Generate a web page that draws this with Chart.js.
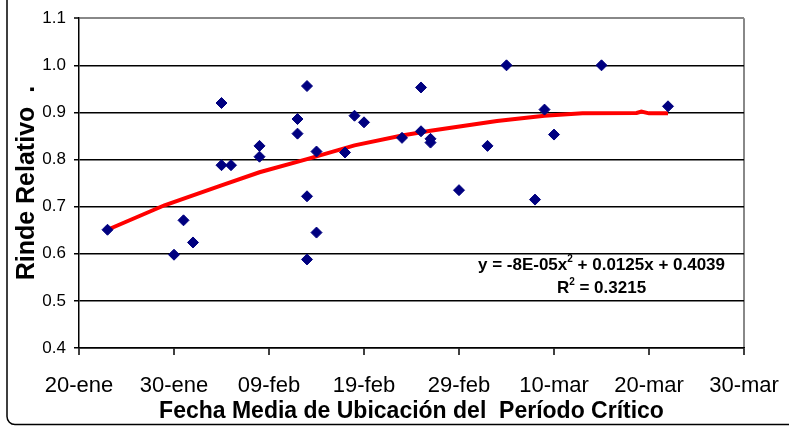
<!DOCTYPE html>
<html>
<head>
<meta charset="utf-8">
<script src="https://cdn.jsdelivr.net/npm/chart.js@4/dist/chart.umd.min.js"></script>
<style>
	body { margin: 0; background: #fff; overflow: hidden; }
	canvas { display: block; }
</style>
</head>
<body>
<canvas id="rindeChart" width="789" height="426"></canvas>
<script>
// dias contados desde el 20-ene (año bisiesto)
const xLabels = ["20-ene", "30-ene", "09-feb", "19-feb", "29-feb", "10-mar", "20-mar", "30-mar"];

const fechaDias = [3, 10, 11, 12, 15, 15, 16, 19, 19, 23, 23, 24, 24, 24, 25, 25,
	28, 29, 30, 34, 36, 36, 37, 37, 40, 43, 45, 48, 49, 50, 55, 62];
const rindeRel = [0.651, 0.598, 0.671, 0.624, 0.920, 0.788, 0.788, 0.829, 0.806, 0.886, 0.855, 0.956, 0.722, 0.588, 0.817, 0.645,
	0.815, 0.893, 0.879, 0.846, 0.953, 0.860, 0.844, 0.836, 0.735, 0.829, 1.000, 0.715, 0.906, 0.853, 1.000, 0.913];

// linea de tendencia polinomica
const tendDias = [3, 9, 15, 19, 24, 29, 34, 37, 44, 49, 53, 58.7, 59.2, 60, 62];
const tendRinde = [0.651, 0.703, 0.745, 0.773, 0.801, 0.830, 0.851, 0.861, 0.882, 0.893, 0.898, 0.899, 0.902, 0.898, 0.898];

const ecuacion = ["y = -8E-05x", "2", " + 0.0125x + 0.4039"];
const r2Texto = ["R", "2", " = 0.3215"];

const FONT = "'Liberation Sans', Arial, sans-serif";

function drawSup(ctx, parts, cx, cy, size) {
	const big = "bold " + size + "px " + FONT;
	const small = "bold " + Math.round(size * 0.6) + "px " + FONT;
	ctx.font = big;
	const w0 = ctx.measureText(parts[0]).width;
	const w2 = ctx.measureText(parts[2]).width;
	ctx.font = small;
	const w1 = ctx.measureText(parts[1]).width;
	let x = cx - (w0 + w1 + w2) / 2;
	ctx.textAlign = "left";
	ctx.textBaseline = "middle";
	ctx.font = big;
	ctx.fillText(parts[0], x, cy);
	x += w0;
	ctx.font = small;
	ctx.fillText(parts[1], x, cy - size * 0.35);
	x += w1;
	ctx.font = big;
	ctx.fillText(parts[2], x, cy);
}

const extras = {
	id: "extras",
	afterDraw(chart) {
		const { ctx, scales: { x, y } } = chart;
		ctx.save();
		ctx.fillStyle = "#000";
		const cx = x.getPixelForValue(55);
		drawSup(ctx, ecuacion, cx, y.getPixelForValue(0.576), 17);
		drawSup(ctx, r2Texto, cx, y.getPixelForValue(0.527), 17);

		// marco exterior del grafico
		ctx.strokeStyle = "#000";
		ctx.lineWidth = 1.5;
		ctx.beginPath();
		ctx.moveTo(7, -5);
		ctx.lineTo(7, 416);
		ctx.arcTo(7, 424.5, 16, 424.5, 8);
		ctx.lineTo(800, 424.5);
		ctx.stroke();
		ctx.restore();
	}
};

const puntos = fechaDias.map((d, i) => ({ x: d, y: rindeRel[i] }));
const tendencia = tendDias.map((d, i) => ({ x: d, y: tendRinde[i] }));

new Chart(document.getElementById("rindeChart"), {
	type: "scatter",
	data: {
		datasets: [{
			label: "Rinde",
			data: puntos,
			pointStyle: "rectRot",
			pointRadius: 5.5,
			backgroundColor: "#000080",
			borderColor: "#000080",
			borderWidth: 1,
			order: 0
		}, {
			label: "Tendencia",
			data: tendencia,
			showLine: true,
			pointRadius: 0,
			borderColor: "#ff0000",
			borderWidth: 4,
			tension: 0,
			order: 1
		}]
	},
	options: {
		responsive: false,
		animation: false,
		layout: { padding: { top: 17, right: 45, left: 0, bottom: 0 } },
		plugins: { legend: { display: false }, tooltip: { enabled: false } },
		scales: {
			x: {
				type: "linear",
				min: 0,
				max: 70,
				afterFit: s => {
					s.height = 78;
					s.paddingLeft = 0;
					s.paddingRight = 0;
				},
				ticks: {
					stepSize: 10,
					padding: 18,
					color: "#000",
					font: { family: FONT, size: 22 },
					maxRotation: 0,
					callback: v => xLabels[Math.round(v / 10)]
				},
				grid: {
					color: c => (c.tick && c.tick.value === 70) ? "#888" : "rgba(0,0,0,0)",
					lineWidth: 2,
					tickColor: "#000",
					tickLength: 7,
					tickWidth: 1.5
				},
				border: { display: true, color: "#000", width: 1.5 },
				title: {
					display: true,
					text: "Fecha Media de Ubicación del  Período Crítico",
					color: "#000",
					font: { family: FONT, size: 23, weight: "bold" },
					padding: { top: 0, bottom: 1 }
				}
			},
			y: {
				min: 0.4,
				max: 1.1,
				afterFit: s => { s.width = 79; },
				ticks: {
					stepSize: 0.1,
					padding: 8,
					color: "#000",
					font: { family: FONT, size: 17 },
					callback: v => v.toFixed(1)
				},
				grid: {
					color: c => (c.tick && Math.abs(c.tick.value - 1.1) < 1e-6) ? "#888" : "#000",
					lineWidth: c => (c.tick && Math.abs(c.tick.value - 1.1) < 1e-6) ? 2 : 1.5,
					tickColor: "#000",
					tickLength: 5,
					tickWidth: 1.5
				},
				border: { display: true, color: "#000", width: 1.5 },
				title: {
					display: true,
					text: "Rinde Relativo  .",
					color: "#000",
					font: { family: FONT, size: 25, weight: "bold" },
					padding: { top: 12, bottom: 0 }
				}
			}
		}
	},
	plugins: [extras]
});
</script>
</body>
</html>
